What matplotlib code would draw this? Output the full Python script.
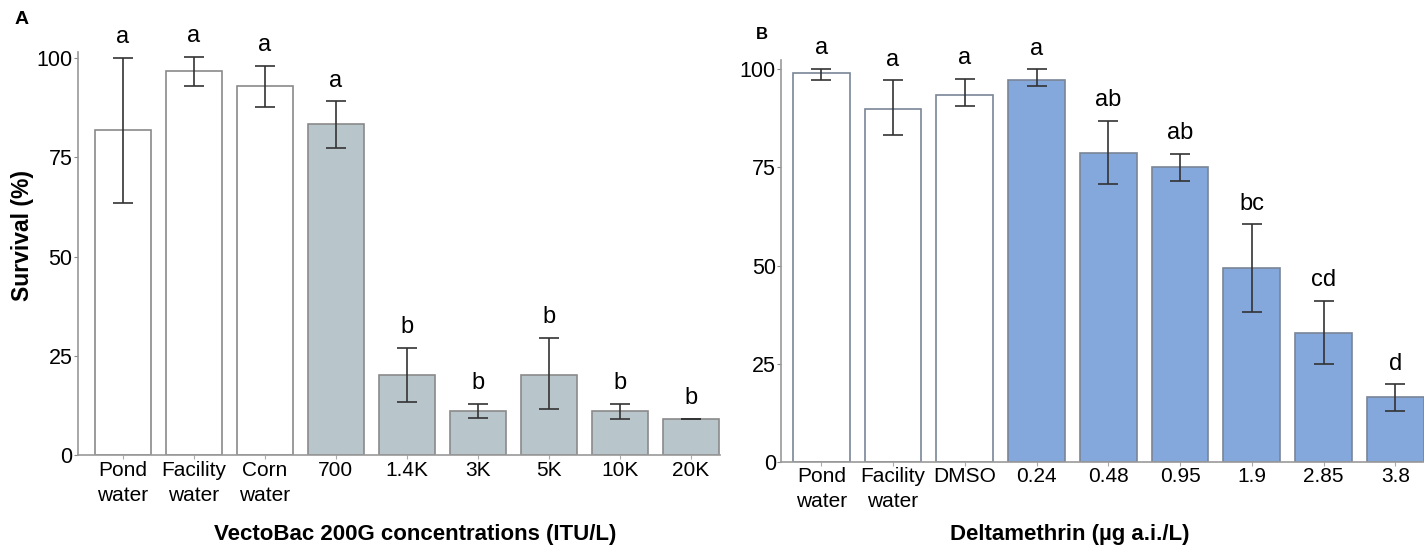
import matplotlib
matplotlib.use('Agg')
import matplotlib.pyplot as plt
from matplotlib import font_manager

# Kullanılabilir dar yazı tipi varsa onu seç
names = {f.name for f in font_manager.fontManager.ttflist}
fam = 'Liberation Sans Narrow' if 'Liberation Sans Narrow' in names else 'Liberation Sans'
plt.rcParams['font.family'] = [fam, 'DejaVu Sans']

# Panel A verileri
a_labels = ['Pond\nwater', 'Facility\nwater', 'Corn\nwater', '700', '1.4K', '3K', '5K', '10K', '20K']
a_mean = [81.8, 96.8, 92.9, 83.4, 20.2, 11.2, 20.2, 11.0, 9.1]
a_err_hi = [100.0, 100.3, 98.0, 89.1, 27.0, 12.9, 29.6, 12.9, 9.1]
a_err_lo = [63.6, 92.9, 87.7, 77.3, 13.4, 9.2, 11.7, 9.1, 9.1]
a_letters = ['a', 'a', 'a', 'a', 'b', 'b', 'b', 'b', 'b']

# Panel B verileri
b_labels = ['Pond\nwater', 'Facility\nwater', 'DMSO', '0.24', '0.48', '0.95', '1.9', '2.85', '3.8']
b_mean = [99.2, 90.0, 93.6, 97.3, 78.7, 75.2, 49.4, 32.9, 16.4]
b_err_hi = [100.2, 97.3, 97.6, 100.0, 86.9, 78.5, 60.5, 41.0, 19.8]
b_err_lo = [97.2, 83.4, 90.8, 95.7, 70.8, 71.6, 38.2, 24.8, 13.0]
b_letters = ['a', 'a', 'a', 'a', 'ab', 'ab', 'bc', 'cd', 'd']

n_ctrl = 3


def panel(ax, labels, mean, hi, lo, letters, fill, edge, xlim, ylim):
    x = list(range(len(labels)))
    colors = ['white'] * n_ctrl + [fill] * (len(labels) - n_ctrl)
    ax.bar(x, mean, width=0.79, color=colors, edgecolor=edge, linewidth=1.2, zorder=2)
    yerr = [[m - l for m, l in zip(mean, lo)], [h - m for m, h in zip(mean, hi)]]
    ax.errorbar(x, mean, yerr=yerr, fmt='none', ecolor='#333333', elinewidth=1.2,
                capsize=7, capthick=1.2, zorder=3)
    for xi, h, t in zip(x, hi, letters):
        ax.text(xi, h + 5.2, t, ha='center', va='center', fontsize=17, color='black')
    ax.set_xlim(*xlim)
    ax.set_ylim(*ylim)
    ax.set_yticks([0, 25, 50, 75, 100])
    ax.set_xticks(x)
    ax.set_xticklabels(labels, fontsize=15, linespacing=1.4)
    ax.tick_params(axis='y', labelsize=15.5, length=3, width=0.8, color='#888888', pad=1)
    ax.tick_params(axis='x', length=3, width=0.8, color='#aaaaaa', pad=1)
    for s in ['top', 'right']:
        ax.spines[s].set_visible(False)
    for s in ['left', 'bottom']:
        ax.spines[s].set_color('#999999')
        ax.spines[s].set_linewidth(1.2)


fig = plt.figure(figsize=(14.24, 5.52), dpi=100)
ax1 = fig.add_axes([0.0548, 0.1757, 0.4508, 0.730])
ax2 = fig.add_axes([0.5488, 0.1636, 0.4512, 0.7277])

panel(ax1, a_labels, a_mean, a_err_hi, a_err_lo, a_letters, '#b8c5ca', '#8a8a8a',
      (-0.63, 8.41), (0, 101.5))
panel(ax2, b_labels, b_mean, b_err_hi, b_err_lo, b_letters, '#84a8dc', '#7a8596',
      (-0.555, 8.4), (0, 102.4))

fig.text(0.0155, 0.574, 'Survival (%)', fontsize=16.5, fontweight='bold',
         rotation=90, ha='center', va='center')
fig.text(0.2914, 0.031, 'VectoBac 200G concentrations (ITU/L)', fontsize=16,
         fontweight='bold', ha='center', va='center')
fig.text(0.7514, 0.031, 'Deltamethrin (µg a.i./L)', fontsize=16,
         fontweight='bold', ha='center', va='center')
fig.text(0.0105, 0.965, 'A', fontsize=14, fontweight='bold', va='center')
fig.text(0.531, 0.937, 'B', fontsize=12, fontweight='bold', va='center')

fig.savefig('out.png', dpi=100)
